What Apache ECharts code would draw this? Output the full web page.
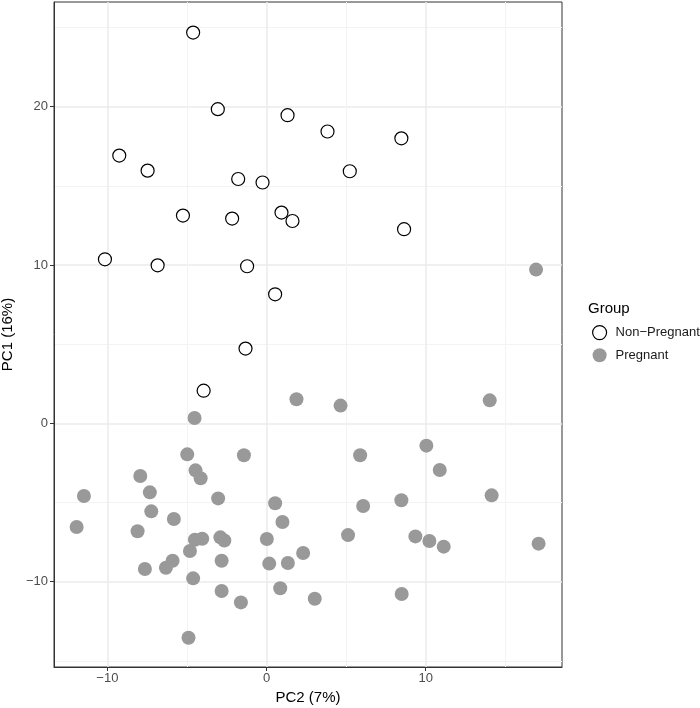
<!DOCTYPE html>
<html>
<head>
<meta charset="utf-8">
<script src="https://cdn.jsdelivr.net/npm/echarts@6/dist/echarts.min.js"></script>
<style>
html,body{margin:0;padding:0;background:#fff;}
#chart{width:700px;height:708px;}
</style>
</head>
<body>
<div id="chart"></div>
<script>
// Data (PC2 = x, PC1 = y)
const nonPregnantPC2 = [-4.61, -3.06, 1.32, -9.25, -7.47, -1.78, -0.25, -5.25, -2.16, 0.94, 1.63, 3.83, 8.47, 5.23, 8.64, -10.15, -6.84, -1.22, 0.54, -1.32, -3.95];
const nonPregnantPC1 = [24.68, 19.84, 19.46, 16.91, 15.96, 15.43, 15.21, 13.12, 12.93, 13.31, 12.78, 18.43, 18.0, 15.92, 12.26, 10.36, 9.98, 9.92, 8.15, 4.72, 2.06];

const pregnantPC2 = [1.88, -4.52, -4.98, -1.42, -4.46, -4.14, -7.93, -7.33, 16.93, 4.65, 14.02, 5.88, 10.04, 10.88, -11.47, -3.04, 0.54, -11.93, -7.24, -5.82, 1.0, -8.1, -4.5, -4.04, -2.9, -2.65, 0.02, -4.81, 2.3, -2.82, 0.17, 1.34, -5.9, -6.32, -7.64, -4.61, 0.86, -2.82, -1.61, -4.9, 14.14, 8.47, 6.07, 5.12, 9.35, 10.23, 11.13, 17.09, 3.03, 8.49];
const pregnantPC1 = [1.52, 0.34, -1.96, -2.02, -2.97, -3.47, -3.33, -4.36, 9.71, 1.12, 1.45, -2.02, -1.41, -2.95, -4.59, -4.74, -5.05, -6.55, -5.56, -6.04, -6.23, -6.82, -7.35, -7.29, -7.2, -7.4, -7.31, -8.06, -8.19, -8.68, -8.86, -8.82, -8.68, -9.12, -9.2, -9.79, -10.42, -10.59, -11.31, -13.54, -4.55, -4.86, -5.22, -7.06, -7.14, -7.43, -7.79, -7.6, -11.08, -10.78];

const xMajorTicks = [-10, 0, 10];
const xMinorTicks = [-5, 5, 15];
const yMajorTicks = [-10, 0, 10, 20];
const yMinorTicks = [-15, -5, 5, 15, 25];

const groupNames = ['Non\u2212Pregnant', 'Pregnant'];
const legendTitle = 'Group';
const xTitle = 'PC2 (7%)';
const yTitle = 'PC1 (16%)';

const xRange = [-13.35, 18.56];
const yRange = [-15.39, 26.61];

function zip(a, b) { return a.map((v, i) => [v, b[i]]); }
function fmt(v) { return v < 0 ? '\u2212' + Math.abs(v) : String(v); }

const chart = echarts.init(document.getElementById('chart'), null, {renderer: 'canvas'});
const FONT = 'Liberation Sans, Arial, Helvetica, sans-serif';

const majorSplit = {show: true, lineStyle: {color: '#ebebeb', width: 1.5}};
const minorSplit = {show: true, lineStyle: {color: '#f3f3f3', width: 1}};

chart.setOption({
  animation: false,
  backgroundColor: '#fff',
  textStyle: {fontFamily: FONT},
  title: {
    text: legendTitle,
    left: 583, top: 296,
    textStyle: {fontSize: 15, fontWeight: 'normal', color: '#000', fontFamily: FONT}
  },
  legend: {
    orient: 'vertical',
    left: 592, top: 325,
    padding: 0,
    itemWidth: 14, itemHeight: 14, itemGap: 8,
    textStyle: {fontSize: 13, color: '#1a1a1a', fontFamily: FONT, padding: [0, 0, 0, 4]},
    data: [
      {name: groupNames[0], icon: 'circle', itemStyle: {color: '#fff', borderColor: '#000', borderWidth: 1.2}},
      {name: groupNames[1], icon: 'circle', itemStyle: {color: '#999999', borderWidth: 0}}
    ]
  },
  grid: {
    left: 54, right: 138, top: 2, bottom: 41,
    outerBoundsMode: 'none', containLabel: false,
    show: true, borderColor: '#333', borderWidth: 1, backgroundColor: '#fff'
  },
  xAxis: [{
    type: 'value', min: xRange[0], max: xRange[1], position: 'bottom',
    name: xTitle, nameLocation: 'middle', nameGap: 21,
    nameTextStyle: {fontSize: 15, color: '#000', fontFamily: FONT},
    axisLine: {show: true, onZero: false, lineStyle: {color: '#333', width: 1}},
    axisTick: {show: true, customValues: xMajorTicks, length: 4, lineStyle: {color: '#333'}},
    axisLabel: {customValues: xMajorTicks, formatter: fmt, color: '#4d4d4d', fontSize: 13, margin: 5, fontFamily: FONT},
    splitLine: majorSplit
  }, {
    type: 'value', min: xRange[0], max: xRange[1], position: 'top',
    axisLine: {show: false}, axisLabel: {show: false},
    axisTick: {show: false, customValues: xMinorTicks},
    splitLine: minorSplit
  }],
  yAxis: [{
    type: 'value', min: yRange[0], max: yRange[1], position: 'left',
    name: yTitle, nameLocation: 'middle', nameGap: 37, nameRotate: 90,
    nameTextStyle: {fontSize: 15, color: '#000', fontFamily: FONT},
    axisLine: {show: true, onZero: false, lineStyle: {color: '#333', width: 1}},
    axisTick: {show: true, customValues: yMajorTicks, length: 4, lineStyle: {color: '#333'}},
    axisLabel: {customValues: yMajorTicks, formatter: fmt, color: '#4d4d4d', fontSize: 13, margin: 6, fontFamily: FONT},
    splitLine: majorSplit
  }, {
    type: 'value', min: yRange[0], max: yRange[1], position: 'right',
    axisLine: {show: false}, axisLabel: {show: false},
    axisTick: {show: false, customValues: yMinorTicks},
    splitLine: minorSplit
  }],
  series: [{
    name: groupNames[0], type: 'scatter', xAxisIndex: 0, yAxisIndex: 0,
    symbol: 'circle', symbolSize: 13,
    itemStyle: {color: '#fff', borderColor: '#000', borderWidth: 1.2, opacity: 1},
    emphasis: {disabled: true},
    data: zip(nonPregnantPC2, nonPregnantPC1), z: 3
  }, {
    name: groupNames[1], type: 'scatter', xAxisIndex: 0, yAxisIndex: 0,
    symbol: 'circle', symbolSize: 14,
    itemStyle: {color: '#999999', opacity: 1},
    emphasis: {disabled: true},
    data: zip(pregnantPC2, pregnantPC1), z: 3
  }]
});
</script>
</body>
</html>
